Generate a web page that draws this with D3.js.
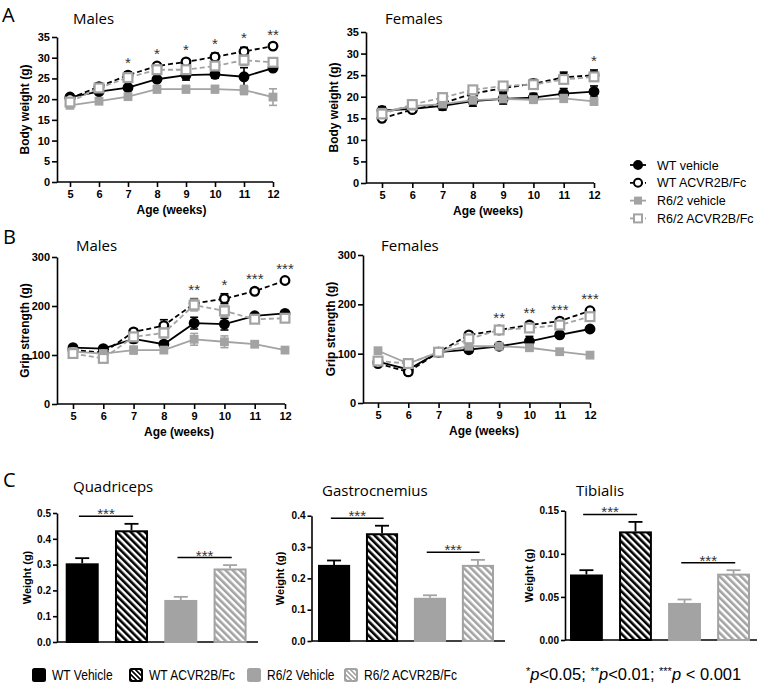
<!DOCTYPE html>
<html>
<head>
<meta charset="utf-8">
<script src="https://cdn.jsdelivr.net/npm/d3@7"></script>
<style>
body { margin: 0; background: #fff; }
svg text { font-family: "Liberation Sans", Arial, sans-serif; }
.tick text { font-weight: bold; font-size: 11px; fill: #000; }
.title { font-family: "Open Sans", "Noto Sans", sans-serif !important; font-size: 15px; }
.letter { font-family: "Open Sans", "Noto Sans", sans-serif !important; font-size: 20px; }
.axlab { font-weight: bold; font-size: 12px; }
.star { font-size: 15px; fill: #333; }
</style>
</head>
<body>
<svg id="fig" width="760" height="685"></svg>
<script>
'use strict';

var weeks = [5, 6, 7, 8, 9, 10, 11, 12];
var seriesNames = ['WT vehicle', 'WT ACVR2B/Fc', 'R6/2 vehicle', 'R6/2 ACVR2B/Fc'];
var barNames = ['WT Vehicle', 'WT ACVR2B/Fc', 'R6/2 Vehicle', 'R6/2 ACVR2B/Fc'];

/** A - body weight, males */
var bwMaleWtVeh = [20.5, 21.8, 22.8, 24.8, 25.8, 26.0, 25.4, 27.5];
var bwMaleWtAcv = [20.2, 23.0, 25.8, 28.0, 29.0, 30.2, 31.5, 32.8];
var bwMaleR6Veh = [18.5, 19.5, 20.6, 22.4, 22.4, 22.4, 22.2, 20.5];
var bwMaleR6Acv = [19.3, 22.7, 25.2, 27.1, 27.1, 28.0, 29.4, 28.9];
var bwMaleWtVehErr = [0.5, 0.6, 0.6, 0.6, 1.2, 0.9, 2.2, 0.6];
var bwMaleWtAcvErr = [0.5, 0.8, 0.8, 0.7, 0.6, 0.9, 1.0, 0.5];
var bwMaleR6VehErr = [0.6, 0.6, 0.7, 0.9, 0.9, 0.9, 1.1, 2.0];
var bwMaleR6AcvErr = [0.7, 0.9, 0.9, 0.8, 1.0, 1.0, 1.2, 1.0];
var bwMaleSig = ['', '', '*', '*', '*', '*', '*', '**'];

/** A - body weight, females */
var bwFemWtVeh = [16.8, 17.2, 17.9, 19.0, 19.5, 19.8, 20.7, 21.2];
var bwFemWtAcv = [15.0, 17.0, 18.5, 20.7, 22.0, 23.0, 24.5, 25.0];
var bwFemR6Veh = [16.4, 17.8, 18.3, 19.2, 19.5, 19.3, 19.6, 18.9];
var bwFemR6Acv = [16.0, 18.2, 19.8, 21.6, 22.5, 22.8, 24.0, 24.6];
var bwFemWtVehErr = [0.9, 0.5, 1.0, 1.2, 1.2, 1.0, 1.2, 1.3];
var bwFemWtAcvErr = [0.7, 0.6, 0.7, 1.0, 1.0, 1.0, 1.2, 1.2];
var bwFemR6VehErr = [0.6, 0.6, 0.7, 0.8, 0.8, 0.8, 0.9, 0.8];
var bwFemR6AcvErr = [0.6, 0.6, 0.7, 0.8, 0.8, 0.8, 0.9, 0.9];
var bwFemSig = ['', '', '', '', '', '', '', '*'];

/** B - grip strength, males */
var gsMaleWtVeh = [115, 113, 133, 122, 165, 163, 180, 185];
var gsMaleWtAcv = [110, 105, 147, 160, 205, 215, 230, 252];
var gsMaleR6Veh = [107, 103, 110, 110, 132, 127, 122, 110];
var gsMaleR6Acv = [103, 93, 137, 145, 202, 190, 173, 175];
var gsMaleWtVehErr = [5, 5, 8, 6, 12, 12, 5, 5];
var gsMaleWtAcvErr = [5, 6, 6, 12, 10, 10, 6, 5];
var gsMaleR6VehErr = [5, 5, 8, 6, 12, 12, 6, 5];
var gsMaleR6AcvErr = [6, 8, 8, 10, 12, 12, 6, 6];
var gsMaleSig = ['', '', '', '', '**', '*', '***', '***'];

/** B - grip strength, females */
var gsFemWtVeh = [84, 68, 103, 108, 115, 125, 138, 150];
var gsFemWtAcv = [80, 63, 103, 138, 148, 158, 166, 187];
var gsFemR6Veh = [106, 80, 103, 115, 115, 112, 104, 97];
var gsFemR6Acv = [85, 80, 103, 130, 148, 152, 158, 175];
var gsFemWtVehErr = [5, 5, 4, 6, 5, 10, 5, 5];
var gsFemWtAcvErr = [5, 6, 4, 6, 6, 6, 5, 6];
var gsFemR6VehErr = [5, 5, 4, 5, 5, 6, 5, 5];
var gsFemR6AcvErr = [5, 6, 4, 8, 6, 6, 6, 6];
var gsFemSig = ['', '', '', '', '**', '**', '***', '***'];

/** C - muscle weights */
var quadMeans = [0.305, 0.433, 0.163, 0.285];
var quadErr = [0.020, 0.025, 0.012, 0.013];
var gastMeans = [0.243, 0.344, 0.138, 0.243];
var gastErr = [0.014, 0.024, 0.008, 0.016];
var tibMeans = [0.076, 0.126, 0.043, 0.077];
var tibErr = [0.005, 0.011, 0.004, 0.004];

var grey = '#a3a3a3';
var styles = [
    { stroke: '#000', fill: '#000', shape: 'circle', dash: null },
    { stroke: '#000', fill: '#fff', shape: 'circle', dash: '5,3' },
    { stroke: grey, fill: grey, shape: 'square', dash: null },
    { stroke: grey, fill: '#fff', shape: 'square', dash: '5,3' }
];

var svg = d3.select('#fig');

/** hatch patterns */
var defs = svg.append('defs');
function hatch(id, color, size, w) {
    var p = defs.append('pattern')
        .attr('id', id)
        .attr('patternUnits', 'userSpaceOnUse')
        .attr('width', size)
        .attr('height', size)
        .attr('patternTransform', 'rotate(-45)');
    p.append('rect').attr('width', size).attr('height', size).attr('fill', '#fff');
    p.append('rect').attr('width', w).attr('height', size).attr('fill', color);
}
hatch('hBlack', '#000', 5, 2.6);
hatch('hGrey', grey, 5, 2.6);
hatch('hBlackSm', '#000', 3.4, 1.7);
hatch('hGreySm', grey, 3.4, 1.7);

function styleAxis(g) {
    g.selectAll('path, line').attr('stroke', '#000').attr('stroke-width', 1.6);
}

function lineChart(p) {
    var g = svg.append('g');
    var x = d3.scaleLinear().domain([5, 12]).range([p.x0, p.x1]);
    var y = d3.scaleLinear().domain([0, p.yMax]).range([p.yb, p.yt]);

    var ya = g.append('g')
        .attr('transform', 'translate(' + p.ax + ',0)')
        .call(d3.axisLeft(y).tickValues(p.yTicks).tickSize(5).tickSizeOuter(0).tickPadding(2));
    styleAxis(ya);

    var xa = g.append('g')
        .attr('transform', 'translate(0,' + p.yb + ')')
        .call(d3.axisBottom(x).tickValues(weeks).tickFormat(d3.format('d')).tickSize(5).tickPadding(3));
    xa.select('.domain').remove();
    xa.append('line').attr('x1', p.ax).attr('x2', p.x1).attr('y1', 0).attr('y2', 0);
    styleAxis(xa);

    g.append('text').attr('class', 'title').attr('x', p.x0 + 3).attr('y', p.titleY).text(p.title);
    g.append('text').attr('class', 'axlab').attr('text-anchor', 'middle')
        .attr('x', (p.x0 + p.x1) / 2).attr('y', p.yb + 32).text('Age (weeks)');
    g.append('text').attr('class', 'axlab').attr('text-anchor', 'middle')
        .attr('transform', 'translate(' + (p.ax - 28) + ',' + ((p.yt + p.yb) / 2) + ') rotate(-90)')
        .text(p.yLabel);

    var line = d3.line().x(function(d) { return x(d.w); }).y(function(d) { return y(d.v); });

    p.series.forEach(function(s, si) {
        var st = styles[si];
        var pts = weeks.map(function(w, i) { return { w: w, v: s.v[i], e: s.e[i] }; });
        g.append('path').datum(pts)
            .attr('d', line)
            .attr('fill', 'none')
            .attr('stroke', st.stroke)
            .attr('stroke-width', 1.8)
            .attr('stroke-dasharray', st.dash);
        var eb = g.append('g').selectAll('g').data(pts).enter().append('g')
            .attr('stroke', st.stroke).attr('stroke-width', 1.6);
        eb.append('line')
            .attr('x1', function(d) { return x(d.w); }).attr('x2', function(d) { return x(d.w); })
            .attr('y1', function(d) { return y(d.v - d.e); }).attr('y2', function(d) { return y(d.v + d.e); });
        eb.append('line')
            .attr('x1', function(d) { return x(d.w) - 4; }).attr('x2', function(d) { return x(d.w) + 4; })
            .attr('y1', function(d) { return y(d.v + d.e); }).attr('y2', function(d) { return y(d.v + d.e); });
        eb.append('line')
            .attr('x1', function(d) { return x(d.w) - 4; }).attr('x2', function(d) { return x(d.w) + 4; })
            .attr('y1', function(d) { return y(d.v - d.e); }).attr('y2', function(d) { return y(d.v - d.e); });
        var mk = g.append('g').selectAll('.mk').data(pts).enter();
        if (st.shape === 'circle') {
            mk.append('circle')
                .attr('cx', function(d) { return x(d.w); })
                .attr('cy', function(d) { return y(d.v); })
                .attr('r', 4.3)
                .attr('fill', st.fill).attr('stroke', st.stroke).attr('stroke-width', 2.3);
        } else {
            mk.append('rect')
                .attr('x', function(d) { return x(d.w) - 4.4; })
                .attr('y', function(d) { return y(d.v) - 4.4; })
                .attr('width', 8.8).attr('height', 8.8)
                .attr('fill', st.fill).attr('stroke', st.stroke).attr('stroke-width', si === 2 ? 0 : 2.2);
        }
    });

    /** significance stars above the highest point of each week */
    g.append('g').selectAll('text').data(p.sig).enter().append('text')
        .attr('class', 'star')
        .attr('text-anchor', 'middle')
        .attr('x', function(d, i) { return x(weeks[i]); })
        .attr('y', function(d, i) {
            var top = d3.max(p.series, function(s) { return s.v[i] + s.e[i]; });
            return y(top) - 4;
        })
        .text(function(d) { return d; });
}

function barChart(p) {
    var g = svg.append('g');
    var y = d3.scaleLinear().domain([0, p.yMax]).range([p.yb, p.yt]);
    var x = d3.scaleBand().domain(barNames).range([p.b0, p.b1]).paddingInner(0.33).paddingOuter(0);
    var bw = x.bandwidth();

    var ya = g.append('g')
        .attr('transform', 'translate(' + p.ax + ',0)')
        .call(d3.axisLeft(y).tickValues(p.yTicks).tickFormat(d3.format(p.fmt)).tickSize(4).tickSizeOuter(0).tickPadding(2));
    styleAxis(ya);
    ya.selectAll('.tick text').style('font-size', '10px');
    g.append('line').attr('x1', p.ax).attr('x2', p.axEnd).attr('y1', p.yb).attr('y2', p.yb)
        .attr('stroke', '#000').attr('stroke-width', 1.6);

    g.append('text').attr('class', 'title').attr('x', p.titleX).attr('y', p.titleY).text(p.title);
    g.append('text').attr('class', 'axlab').attr('text-anchor', 'middle').style('font-size', '11px')
        .attr('transform', 'translate(' + p.labX + ',' + ((p.yt + p.yb) / 2) + ') rotate(-90)')
        .text('Weight (g)');

    var fills = ['#000', 'url(#hBlack)', grey, 'url(#hGrey)'];
    var strokes = ['#000', '#000', grey, grey];
    var rows = barNames.map(function(n, i) { return { n: n, v: p.means[i], e: p.err[i], i: i }; });

    var eb = g.append('g').selectAll('g').data(rows).enter().append('g')
        .attr('stroke', function(d) { return strokes[d.i]; }).attr('stroke-width', 1.8);
    eb.append('line')
        .attr('x1', function(d) { return x(d.n) + bw / 2; }).attr('x2', function(d) { return x(d.n) + bw / 2; })
        .attr('y1', function(d) { return y(d.v); }).attr('y2', function(d) { return y(d.v + d.e); });
    eb.append('line')
        .attr('x1', function(d) { return x(d.n) + bw / 2 - 7; }).attr('x2', function(d) { return x(d.n) + bw / 2 + 7; })
        .attr('y1', function(d) { return y(d.v + d.e); }).attr('y2', function(d) { return y(d.v + d.e); });

    g.append('g').selectAll('rect').data(rows).enter().append('rect')
        .attr('x', function(d) { return x(d.n) + 1; })
        .attr('y', function(d) { return y(d.v) + 1; })
        .attr('width', bw - 2)
        .attr('height', function(d) { return p.yb - y(d.v) - 1; })
        .attr('fill', function(d) { return fills[d.i]; })
        .attr('stroke', function(d) { return strokes[d.i]; })
        .attr('stroke-width', 2);

    /** significance brackets: WT pair and R6/2 pair */
    [[0, 1], [2, 3]].forEach(function(pair) {
        var top = d3.max(pair, function(i) { return p.means[i] + p.err[i]; });
        var ly = y(top) - 7.5;
        var xa0 = x(barNames[pair[0]]) + bw * 0.4;
        var xa1 = x(barNames[pair[1]]) + bw * 0.55;
        g.append('line').attr('x1', xa0).attr('x2', xa1).attr('y1', ly).attr('y2', ly)
            .attr('stroke', '#000').attr('stroke-width', 1.5);
        g.append('text').attr('class', 'star').attr('text-anchor', 'middle')
            .attr('x', (xa0 + xa1) / 2).attr('y', ly + 3).text('***');
    });
}

/** panel letters */
svg.append('text').attr('class', 'letter').attr('x', 2).attr('y', 22).text('A');
svg.append('text').attr('class', 'letter').attr('x', 3).attr('y', 244).text('B');
svg.append('text').attr('class', 'letter').attr('x', 3).attr('y', 487).text('C');

lineChart({
    title: 'Males', titleY: 24, yLabel: 'Body weight (g)',
    ax: 57, x0: 70, x1: 273, yb: 182, yt: 37, yMax: 35, yTicks: d3.range(0, 36, 5),
    series: [
        { v: bwMaleWtVeh, e: bwMaleWtVehErr }, { v: bwMaleWtAcv, e: bwMaleWtAcvErr },
        { v: bwMaleR6Veh, e: bwMaleR6VehErr }, { v: bwMaleR6Acv, e: bwMaleR6AcvErr }
    ],
    sig: bwMaleSig
});
lineChart({
    title: 'Females', titleY: 24, yLabel: 'Body weight (g)',
    ax: 366, x0: 382, x1: 594, yb: 183, yt: 32, yMax: 35, yTicks: d3.range(0, 36, 5),
    series: [
        { v: bwFemWtVeh, e: bwFemWtVehErr }, { v: bwFemWtAcv, e: bwFemWtAcvErr },
        { v: bwFemR6Veh, e: bwFemR6VehErr }, { v: bwFemR6Acv, e: bwFemR6AcvErr }
    ],
    sig: bwFemSig
});
lineChart({
    title: 'Males', titleY: 251, yLabel: 'Grip strength (g)',
    ax: 57, x0: 73, x1: 285, yb: 404, yt: 257, yMax: 300, yTicks: [0, 100, 200, 300],
    series: [
        { v: gsMaleWtVeh, e: gsMaleWtVehErr }, { v: gsMaleWtAcv, e: gsMaleWtAcvErr },
        { v: gsMaleR6Veh, e: gsMaleR6VehErr }, { v: gsMaleR6Acv, e: gsMaleR6AcvErr }
    ],
    sig: gsMaleSig
});
lineChart({
    title: 'Females', titleY: 251, yLabel: 'Grip strength (g)',
    ax: 363, x0: 378, x1: 590, yb: 403, yt: 255, yMax: 300, yTicks: [0, 100, 200, 300],
    series: [
        { v: gsFemWtVeh, e: gsFemWtVehErr }, { v: gsFemWtAcv, e: gsFemWtAcvErr },
        { v: gsFemR6Veh, e: gsFemR6VehErr }, { v: gsFemR6Acv, e: gsFemR6AcvErr }
    ],
    sig: gsFemSig
});

barChart({
    title: 'Quadriceps', titleX: 73, titleY: 492, labX: 31,
    ax: 57, axEnd: 258, b0: 65.7, b1: 246.6, yb: 642, yt: 513, yMax: 0.5,
    yTicks: [0, 0.1, 0.2, 0.3, 0.4, 0.5], fmt: '.1f',
    means: quadMeans, err: quadErr
});
barChart({
    title: 'Gastrocnemius', titleX: 322, titleY: 496, labX: 284,
    ax: 311.5, axEnd: 505, b0: 318, b1: 494, yb: 641, yt: 515.7, yMax: 0.4,
    yTicks: [0, 0.1, 0.2, 0.3, 0.4], fmt: '.1f',
    means: gastMeans, err: gastErr
});
barChart({
    title: 'Tibialis', titleX: 576, titleY: 496, labX: 533,
    ax: 565, axEnd: 757, b0: 570, b1: 750, yb: 640, yt: 510.7, yMax: 0.15,
    yTicks: [0, 0.05, 0.10, 0.15], fmt: '.2f',
    means: tibMeans, err: tibErr
});

/** legend for line charts */
var lg = svg.append('g').attr('transform', 'translate(638,165)');
var li = lg.selectAll('g').data(seriesNames).enter().append('g')
    .attr('transform', function(d, i) { return 'translate(0,' + i * 17.8 + ')'; });
li.append('line').attr('x1', -8).attr('x2', 8)
    .attr('stroke', function(d, i) { return styles[i].stroke; })
    .attr('stroke-width', 1.8)
    .attr('stroke-dasharray', function(d, i) { return styles[i].dash ? '3,2' : null; });
li.each(function(d, i) {
    var st = styles[i];
    var el = d3.select(this);
    if (st.shape === 'circle') {
        el.append('circle').attr('r', 4).attr('fill', st.fill).attr('stroke', st.stroke).attr('stroke-width', 2);
    } else {
        el.append('rect').attr('x', -4).attr('y', -4).attr('width', 8).attr('height', 8)
            .attr('fill', st.fill).attr('stroke', st.stroke).attr('stroke-width', i === 2 ? 0 : 2);
    }
});
li.append('text').attr('x', 19).attr('y', 4.5).style('font-size', '12.5px').text(function(d) { return d; });

/** legend for bar charts */
var bl = svg.append('g').attr('transform', 'translate(0,675)');
var blX = [33, 130, 248, 345];
var blFill = ['#000', 'url(#hBlackSm)', grey, 'url(#hGreySm)'];
var blStroke = ['#000', '#000', grey, grey];
var bi = bl.selectAll('g').data(barNames).enter().append('g')
    .attr('transform', function(d, i) { return 'translate(' + blX[i] + ',0)'; });
bi.append('rect').attr('x', 0).attr('y', -6).attr('width', 12).attr('height', 12).attr('rx', 1.5)
    .attr('fill', function(d, i) { return blFill[i]; })
    .attr('stroke', function(d, i) { return blStroke[i]; })
    .attr('stroke-width', 2);
bi.append('text')
    .attr('transform', 'translate(19,5) scale(0.86,1)')
    .style('font-size', '14px')
    .text(function(d) { return d; });

var pt = svg.append('text').attr('x', 526).attr('y', 680)
    .style('font-size', '16.5px');
[['*', 'p', '<0.05; '], ['**', 'p', '<0.01; '], ['***', 'p', ' < 0.001']].forEach(function(t) {
    pt.append('tspan').attr('dy', -5).style('font-size', '11px').text(t[0]);
    pt.append('tspan').attr('dy', 5).style('font-style', 'italic').text(t[1]);
    pt.append('tspan').text(t[2]);
});
</script>
</body>
</html>
